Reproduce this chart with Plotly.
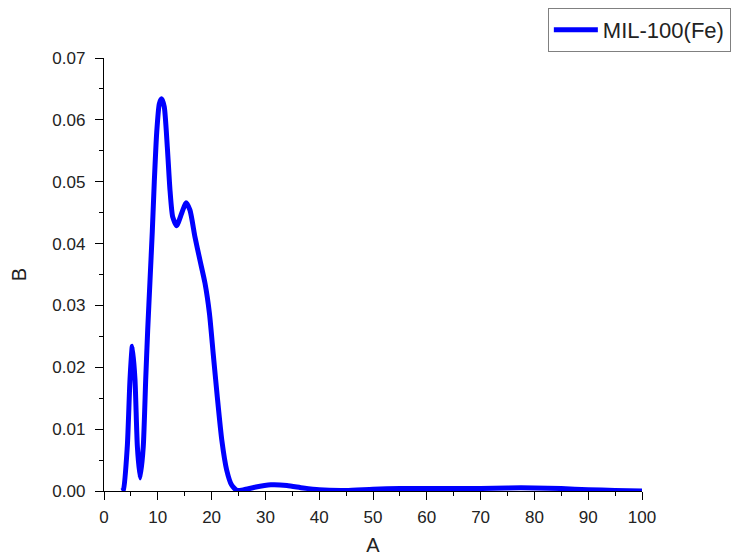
import plotly.graph_objects as go

# Distribution curve for MIL-100(Fe)
a_values = [3.3, 3.6, 4.33, 4.83, 5.27, 5.76, 6.2, 6.7, 7.3, 7.75, 8.12, 8.55, 8.98,
            9.35, 9.8, 10.28, 10.7, 11.2, 11.77, 12.27, 12.77, 13.5, 14.44, 15.24,
            15.98, 16.9, 17.84, 18.77, 19.6, 20.3, 21.06, 21.9, 22.8, 23.7, 24.7,
            26, 28, 31, 34, 37, 40, 45, 50, 55, 60, 65, 70, 75, 80, 85, 90, 95, 100]
b_values = [0.0, 0.0002, 0.0072, 0.018, 0.0234, 0.018, 0.0072, 0.0021, 0.0072, 0.018,
            0.026, 0.034, 0.042, 0.050, 0.058, 0.0626, 0.0634, 0.0621, 0.0556, 0.0486,
            0.0443, 0.0429, 0.0449, 0.0466, 0.0454, 0.0411, 0.0373, 0.0336, 0.0287,
            0.0222, 0.0152, 0.0082, 0.0034, 0.001, 0.0001,
            0.0002, 0.0006, 0.001, 0.0009, 0.0005, 0.0002, 0.0001, 0.0003, 0.0004,
            0.0004, 0.0004, 0.0004, 0.0005, 0.0005, 0.0004, 0.0002, 0.0001, 0.0]

series_name = "MIL-100(Fe)"
x_title = "A"
y_title = "B"

font_family = "Arial, Liberation Sans, sans-serif"

fig = go.Figure()
fig.add_trace(go.Scatter(
    x=a_values, y=b_values, mode="lines", name=series_name,
    line=dict(color="#0000FF", width=5, shape="spline", smoothing=0.6),
))

axis_common = dict(
    showline=True, linecolor="#000000", linewidth=1.4,
    ticks="outside", ticklen=8, tickwidth=1.4, tickcolor="#000000",
    showgrid=False, zeroline=False, mirror=False, automargin=False,
    tickfont=dict(family=font_family, size=17, color="#222222"),
    title_font=dict(family=font_family, size=20, color="#222222"),
)

fig.update_xaxes(
    range=[0, 100], dtick=10, tick0=0, title_text=x_title,
    minor=dict(ticks="outside", ticklen=4, dtick=5, tickcolor="#000000", tickwidth=1.4),
    title_standoff=12, ticklabelstandoff=2, **axis_common,
)
fig.update_yaxes(
    range=[0, 0.07], dtick=0.01, tick0=0, tickformat=".2f", title_text=y_title,
    minor=dict(ticks="outside", ticklen=4, dtick=0.005, tickcolor="#000000", tickwidth=1.4),
    title_standoff=20, ticklabelstandoff=6, **axis_common,
)

fig.update_layout(
    width=736, height=557,
    margin=dict(l=104, r=94, t=58, b=66, autoexpand=False),
    paper_bgcolor="white", plot_bgcolor="white",
    showlegend=True,
    legend=dict(
        x=0.825, y=1.1155, xanchor="left", yanchor="top",
        bordercolor="#808080", borderwidth=1, bgcolor="white",
        font=dict(family=font_family, size=22, color="#222222"),
        itemwidth=44,
    ),
)

fig.write_html("out.html")
